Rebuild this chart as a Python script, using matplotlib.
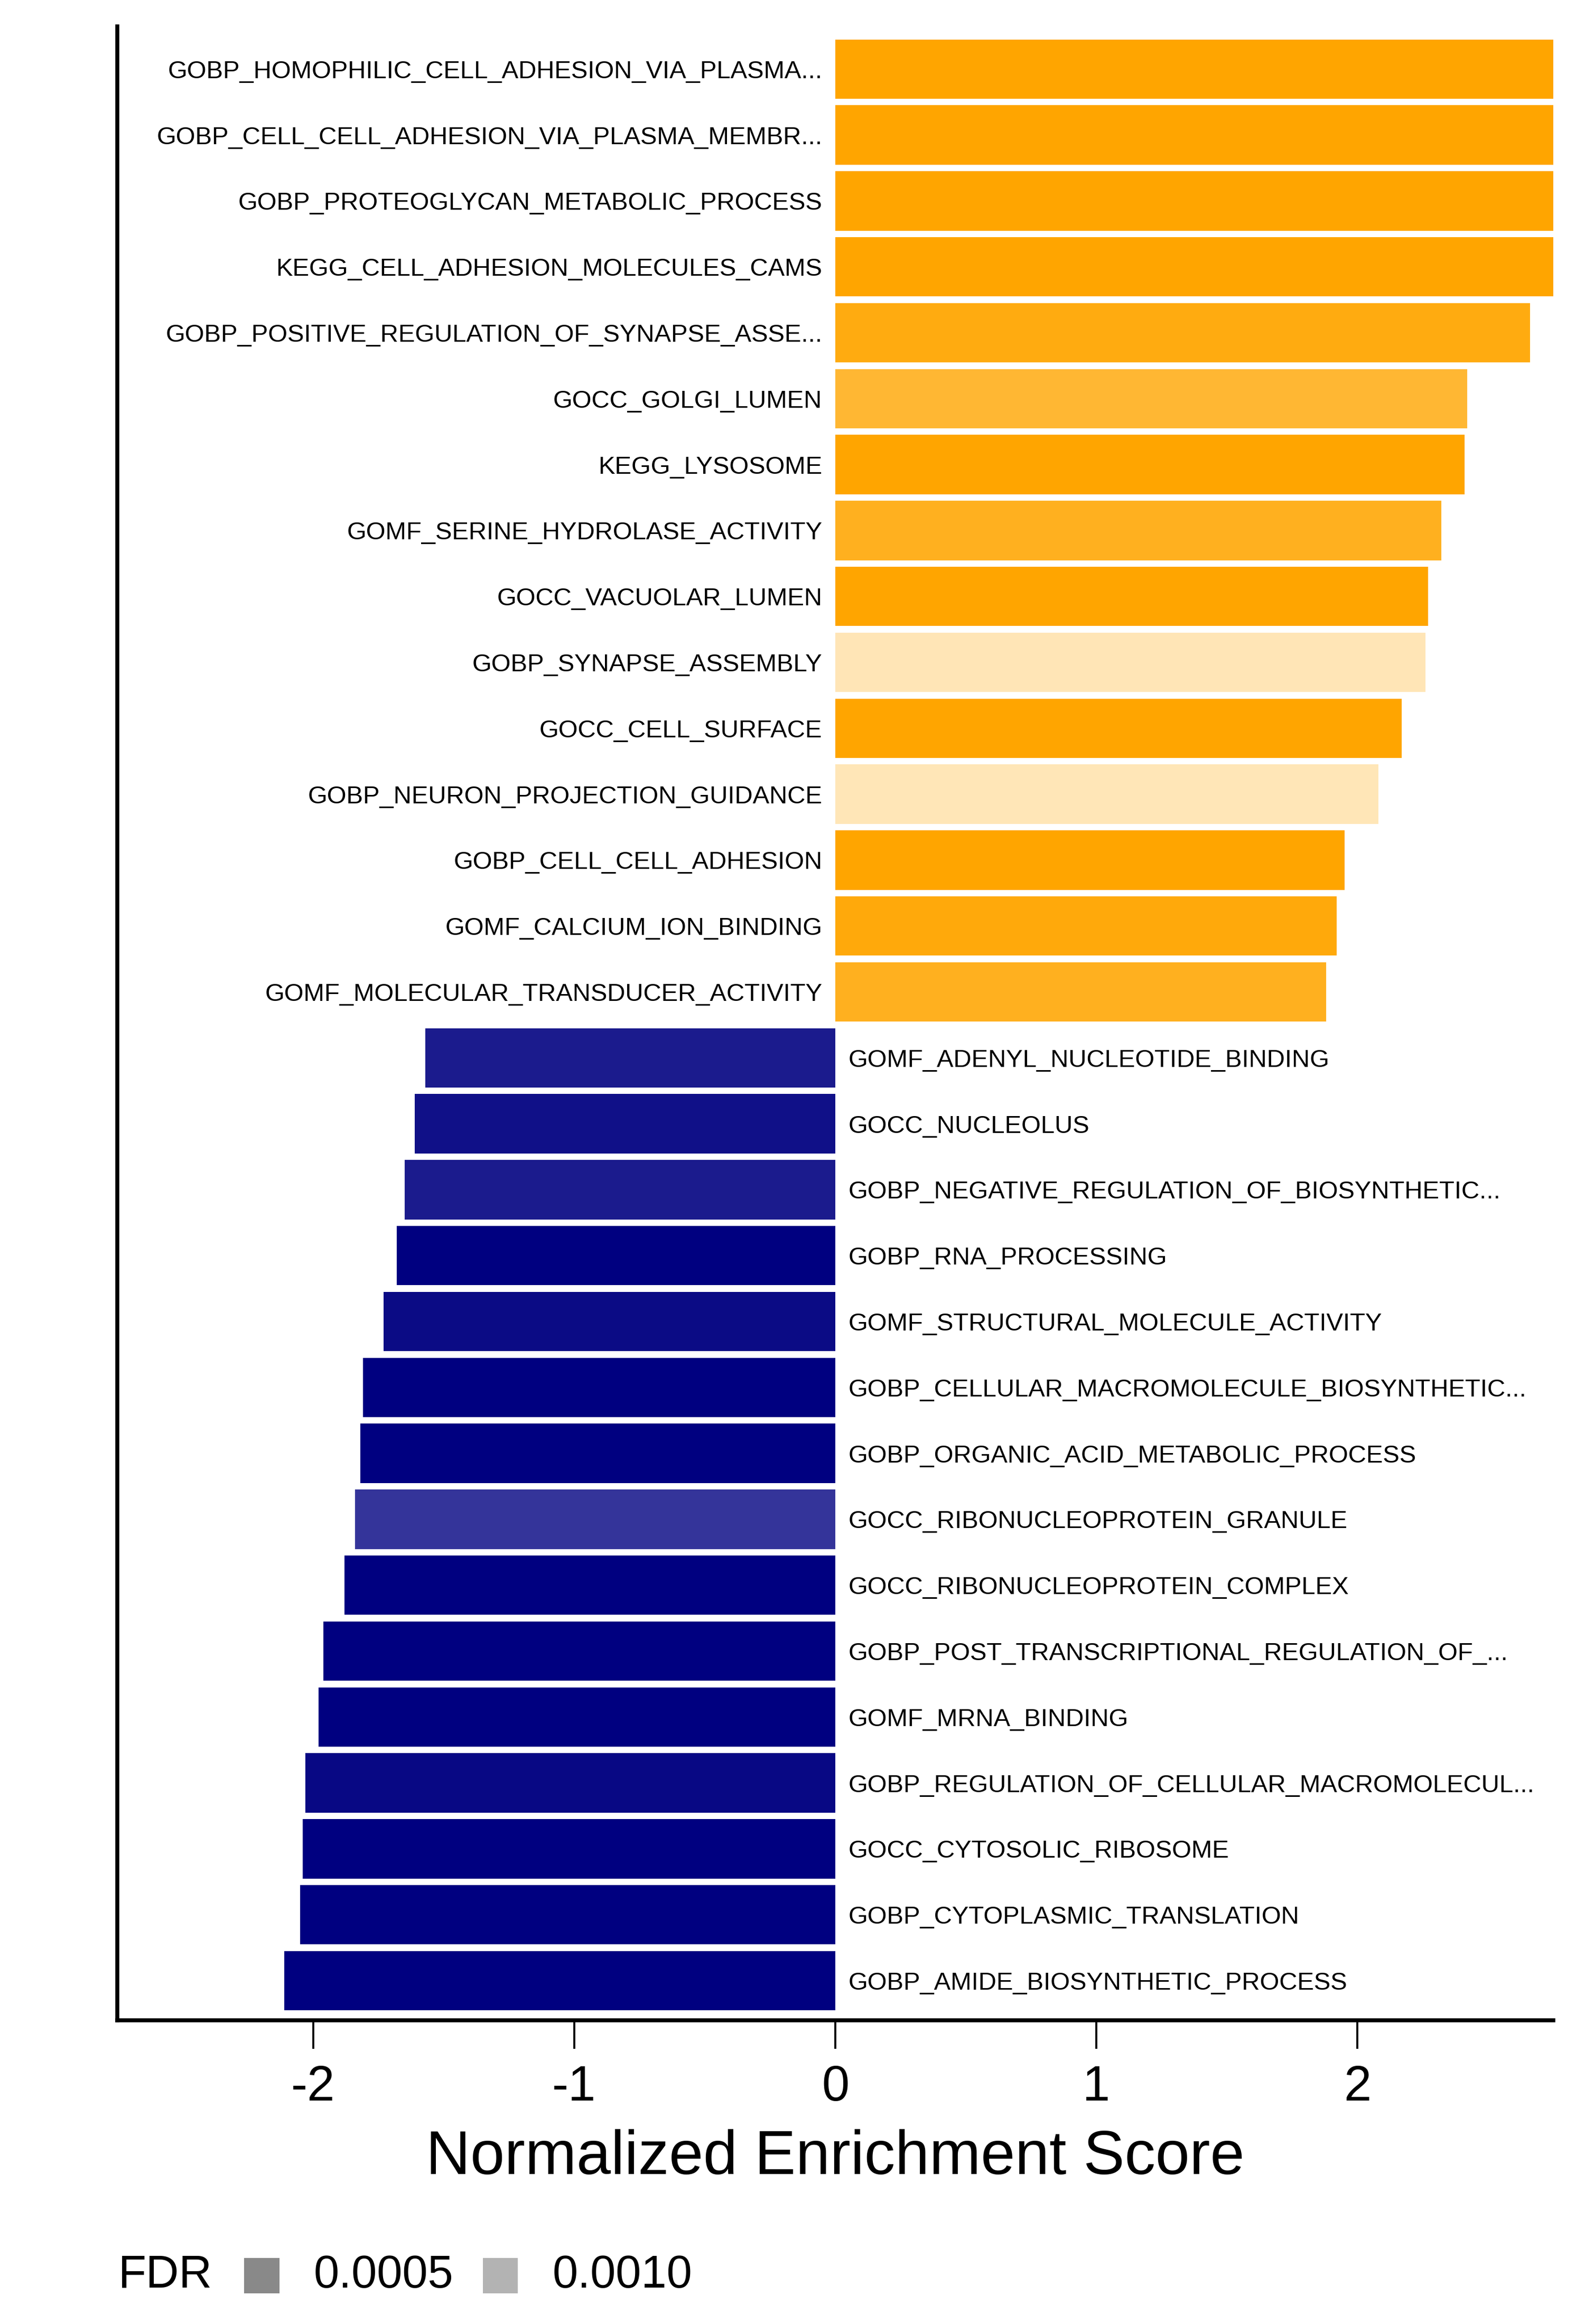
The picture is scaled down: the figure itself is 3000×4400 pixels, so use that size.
import matplotlib
matplotlib.use('Agg')
import matplotlib.pyplot as plt
from matplotlib.patches import Rectangle
from matplotlib.colors import to_rgb
import numpy as np

plt.rcParams['font.family'] = ['Liberation Sans', 'DejaVu Sans']
plt.rcParams['axes.unicode_minus'] = False

# gene sets, top to bottom
pathways = [
    'GOBP_HOMOPHILIC_CELL_ADHESION_VIA_PLASMA...',
    'GOBP_CELL_CELL_ADHESION_VIA_PLASMA_MEMBR...',
    'GOBP_PROTEOGLYCAN_METABOLIC_PROCESS',
    'KEGG_CELL_ADHESION_MOLECULES_CAMS',
    'GOBP_POSITIVE_REGULATION_OF_SYNAPSE_ASSE...',
    'GOCC_GOLGI_LUMEN',
    'KEGG_LYSOSOME',
    'GOMF_SERINE_HYDROLASE_ACTIVITY',
    'GOCC_VACUOLAR_LUMEN',
    'GOBP_SYNAPSE_ASSEMBLY',
    'GOCC_CELL_SURFACE',
    'GOBP_NEURON_PROJECTION_GUIDANCE',
    'GOBP_CELL_CELL_ADHESION',
    'GOMF_CALCIUM_ION_BINDING',
    'GOMF_MOLECULAR_TRANSDUCER_ACTIVITY',
    'GOMF_ADENYL_NUCLEOTIDE_BINDING',
    'GOCC_NUCLEOLUS',
    'GOBP_NEGATIVE_REGULATION_OF_BIOSYNTHETIC...',
    'GOBP_RNA_PROCESSING',
    'GOMF_STRUCTURAL_MOLECULE_ACTIVITY',
    'GOBP_CELLULAR_MACROMOLECULE_BIOSYNTHETIC...',
    'GOBP_ORGANIC_ACID_METABOLIC_PROCESS',
    'GOCC_RIBONUCLEOPROTEIN_GRANULE',
    'GOCC_RIBONUCLEOPROTEIN_COMPLEX',
    'GOBP_POST_TRANSCRIPTIONAL_REGULATION_OF_...',
    'GOMF_MRNA_BINDING',
    'GOBP_REGULATION_OF_CELLULAR_MACROMOLECUL...',
    'GOCC_CYTOSOLIC_RIBOSOME',
    'GOBP_CYTOPLASMIC_TRANSLATION',
    'GOBP_AMIDE_BIOSYNTHETIC_PROCESS',
]
nes = [2.75, 2.75, 2.75, 2.75, 2.66, 2.42, 2.41, 2.32, 2.27, 2.26,
       2.17, 2.08, 1.95, 1.92, 1.88,
       -1.57, -1.61, -1.65, -1.68, -1.73, -1.81, -1.82, -1.84, -1.88, -1.96,
       -1.98, -2.03, -2.04, -2.05, -2.11]
fdr = [0, 0, 0, 0, 0.00012, 0.00038, 0, 0.00023, 0, 0.00136,
       0, 0.00137, 0, 0.00008, 0.00023,
       0.0002, 0.00012, 0.0002, 0, 0.00008, 0, 0, 0.00039, 0, 0,
       0, 0.00006, 0, 0, 0]
legend_fdr = [0.0005, 0.0010]

up_col = '#FFA500'
down_col = '#000080'
key_grey = '#5F5F5F'

def fdr_alpha(f):
    return 1 - 525 * f

def blend(col, a):
    rgb = np.array(to_rgb(col))
    return tuple(1 - a * (1 - rgb))

n = len(pathways)
ypos = np.arange(n)[::-1]
colors = [blend(up_col if v > 0 else down_col, fdr_alpha(f)) for v, f in zip(nes, fdr)]

fig = plt.figure(figsize=(10, 4400 / 300), dpi=300)
ax = fig.add_axes([0.074, 0.1307, 0.906, 0.858])

ax.barh(ypos, nes, height=0.9, color=colors, linewidth=0)

for y, v, name in zip(ypos, nes, pathways):
    if v > 0:
        ax.text(-0.05, y, name, ha='right', va='center_baseline', fontsize=11.35)
    else:
        ax.text(0.05, y, name, ha='left', va='center_baseline', fontsize=11.35)

ax.set_xlim(-2.75, 2.75)
ax.set_ylim(-0.6, n - 0.35)
ax.set_yticks([])
ax.set_xticks([-2, -1, 0, 1, 2])
ax.set_xticklabels(['-2', '-1', '0', '1', '2'])
ax.tick_params(axis='x', length=13, width=0.9, pad=7, labelsize=22.5)
ax.set_xlabel('Normalized Enrichment Score', fontsize=28, labelpad=8)

for side in ['top', 'right']:
    ax.spines[side].set_visible(False)
ax.spines['left'].set_linewidth(1.8)
ax.spines['bottom'].set_linewidth(1.8)

# FDR legend at the bottom
leg_y = 0.0208
fig.text(0.0747, leg_y, 'FDR', fontsize=20.8, va='center', ha='left')
key_x = [0.154, 0.3045]
for kx, f in zip(key_x, legend_fdr):
    fig.add_artist(Rectangle((kx, leg_y - 0.0076), 0.0223, 0.0152,
                             transform=fig.transFigure,
                             facecolor=blend(key_grey, fdr_alpha(f)),
                             edgecolor='none'))
    fig.text(kx + 0.044, leg_y, '%.4f' % f, fontsize=20.8, va='center', ha='left')

fig.savefig('out.png', dpi=300)
